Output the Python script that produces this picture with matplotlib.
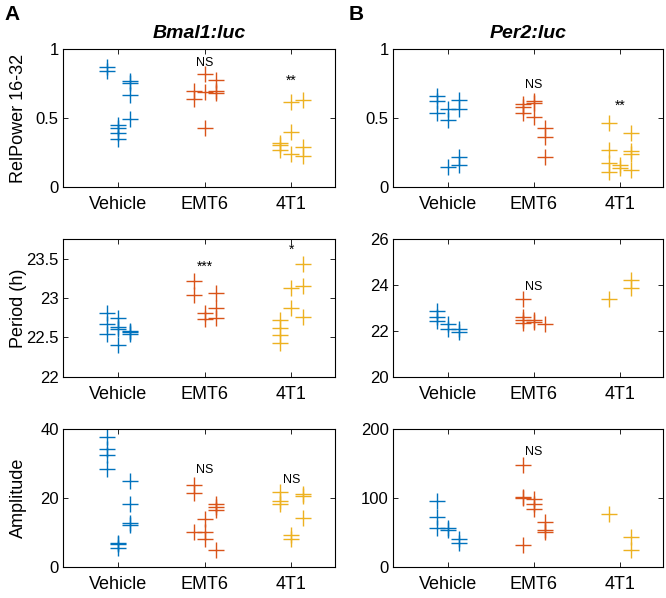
import numpy as np
import matplotlib
matplotlib.use("Agg")
from matplotlib import pyplot as plt

plt.rcParams['font.family'] = ['Liberation Sans', 'DejaVu Sans']

groups = ["Vehicle", "EMT6", "4T1"]
colors = ["#0072BD", "#D95319", "#EDB120"]

# each group: [left column, centre column, right column] of the jittered scatter
bmal_power = [
    [[0.87, 0.84], [0.45, 0.425, 0.39, 0.35], [0.77, 0.755, 0.67, 0.49]],
    [[0.70, 0.64], [0.82, 0.69, 0.43], [0.78, 0.70, 0.685]],
    [[0.32, 0.30, 0.27], [0.62, 0.40, 0.235], [0.63, 0.29, 0.22]],
]
bmal_period = [
    [[22.81, 22.67, 22.55], [22.75, 22.63, 22.61, 22.40], [22.58, 22.565, 22.54]],
    [[23.22, 23.045], [22.815, 22.735], [23.07, 22.87, 22.75]],
    [[22.72, 22.62, 22.53, 22.43], [23.125, 22.87], [23.44, 23.155, 22.756]],
]
bmal_amp = [
    [[37.7, 34.3, 32.5, 28.4], [7.0, 6.5, 5.5], [25.0, 18.4, 12.6, 12.1]],
    [[23.8, 21.6, 10.2], [13.8, 10.2, 8.2], [18.4, 17.5, 16.5, 4.9]],
    [[21.8, 19.2, 18.4], [9.2, 8.2], [21.1, 20.6, 14.1]],
]
per_power = [
    [[0.66, 0.626, 0.534], [0.566, 0.485, 0.141], [0.631, 0.566, 0.218, 0.158]],
    [[0.602, 0.578, 0.534], [0.626, 0.612, 0.505], [0.43, 0.364, 0.218]],
    [[0.466, 0.267, 0.17, 0.11], [0.158, 0.134], [0.393, 0.262, 0.238, 0.122]],
]
per_period = [
    [[22.88, 22.6, 22.45], [22.3, 22.1], [22.1, 21.95]],
    [[23.38, 22.62, 22.48, 22.33], [22.5, 22.4], [22.3]],
    [[23.38], [], [24.22, 23.86]],
]
per_amp = [
    [[96, 72, 57], [55.8, 54], [41, 34]],
    [[148, 101, 99.5, 31.6], [98, 90.8, 83.5], [65.5, 53.4, 51]],
    [[76.7], [], [42.7, 24.3]],
]

# significance labels: (group index, text, y)
bmal_power_sig = [(1, "NS", 0.90), (2, "**", 0.77)]
bmal_period_sig = [(1, "***", 23.40), (2, "*", 23.62)]
bmal_amp_sig = [(1, "NS", 28.2), (2, "NS", 25.4)]
per_power_sig = [(1, "NS", 0.74), (2, "**", 0.59)]
per_period_sig = [(1, "NS", 23.93)]
per_amp_sig = [(1, "NS", 167)]

jit = [-0.13, 0.0, 0.13]

fig = plt.figure(figsize=(6.66, 5.98), dpi=100)

lefts = [0.0946, 0.590]
bottoms = [0.6878, 0.370, 0.0523]
w = 0.408
h = 0.2297

panels = [
    [(bmal_power, bmal_power_sig, (0, 1), [0, 0.5, 1], ["0", "0.5", "1"], "RelPower 16-32"),
     (bmal_period, bmal_period_sig, (22, 23.75), [22, 22.5, 23, 23.5], ["22", "22.5", "23", "23.5"], "Period (h)"),
     (bmal_amp, bmal_amp_sig, (0, 40), [0, 20, 40], ["0", "20", "40"], "Amplitude")],
    [(per_power, per_power_sig, (0, 1), [0, 0.5, 1], ["0", "0.5", "1"], None),
     (per_period, per_period_sig, (20, 26), [20, 22, 24, 26], ["20", "22", "24", "26"], None),
     (per_amp, per_amp_sig, (0, 200), [0, 100, 200], ["0", "100", "200"], None)],
]
titles = ["Bmal1:luc", "Per2:luc"]

for c in range(2):
    for r in range(3):
        data, sig, ylim, yt, ytl, ylab = panels[c][r]
        ax = fig.add_axes([lefts[c], bottoms[r], w if c == 0 else 0.405, h])
        for g in range(3):
            for k in range(3):
                vals = data[g][k]
                if len(vals) == 0:
                    continue
                xs = np.full(len(vals), g + 1 + jit[k])
                ax.plot(xs, vals, linestyle="none", marker="+", ms=12, mew=1.0,
                        color=colors[g])
        for g, txt, y in sig:
            ax.text(g + 1, y, txt, ha="center", va="center", fontsize=9 if "*" not in txt else 10)
        ax.set_xlim(0.36, 3.5)
        ax.set_ylim(*ylim)
        ax.set_xticks([1, 2, 3])
        ax.set_xticklabels(groups, fontsize=13)
        ax.set_yticks(yt)
        ax.set_yticklabels(ytl, fontsize=12)
        ax.tick_params(direction="in", top=True, right=True, length=3.5, width=0.6)
        ax.tick_params(axis="x", pad=7)
        ax.tick_params(axis="y", pad=3)
        for s in ax.spines.values():
            s.set_linewidth(0.8)
        if ylab:
            ax.set_ylabel(ylab, fontsize=13)
            ax.yaxis.set_label_coords(-0.132, 0.5)
        if r == 0:
            ax.set_title(titles[c], fontsize=14, fontweight="bold", style="italic", pad=8)

fig.text(0.018, 0.976, "A", fontsize=15, fontweight="bold", va="center", ha="center")
fig.text(0.535, 0.976, "B", fontsize=15, fontweight="bold", va="center", ha="center")

fig.savefig("out.png", dpi=100)
